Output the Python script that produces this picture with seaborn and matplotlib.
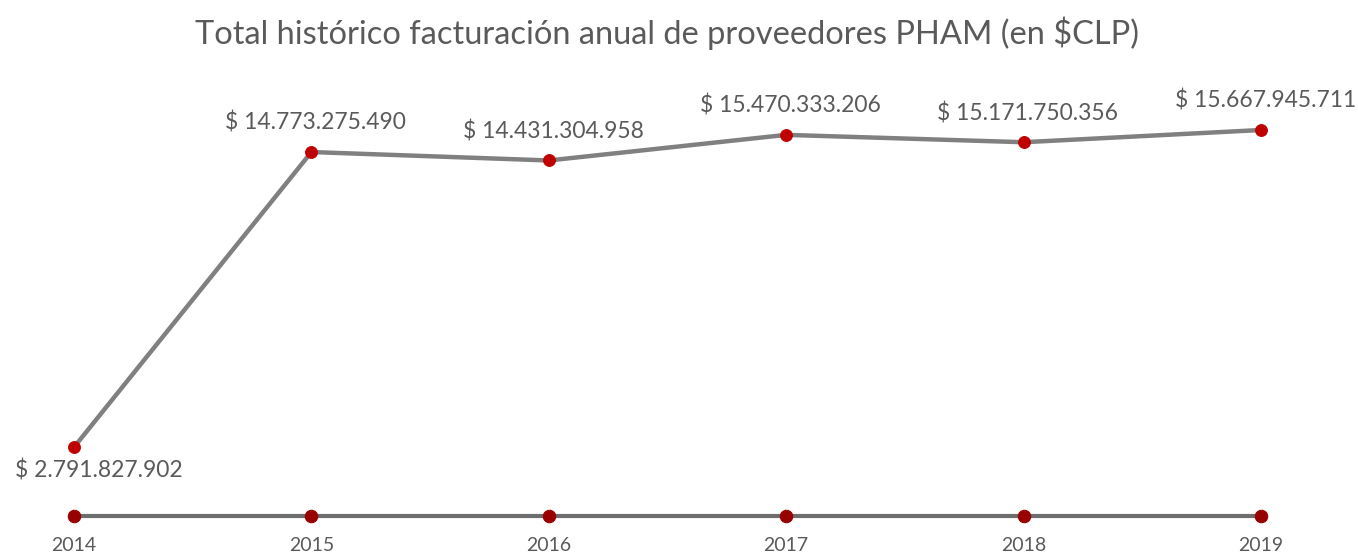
import matplotlib
matplotlib.use("Agg")
import matplotlib.pyplot as plt
import seaborn as sns
import pandas as pd

years = ["2014", "2015", "2016", "2017", "2018", "2019"]
totals = [2791827902, 14773275490, 14431304958, 15470333206, 15171750356, 15667945711]
baseline = [0, 0, 0, 0, 0, 0]
labels = ["$ 2.791.827.902", "$ 14.773.275.490", "$ 14.431.304.958",
          "$ 15.470.333.206", "$ 15.171.750.356", "$ 15.667.945.711"]
title = "Total histórico facturación anual de proveedores PHAM (en $CLP)"

sns.set_theme(style="white")
plt.rcParams['font.family'] = ['Lato', 'DejaVu Sans']

df = pd.DataFrame({"x": range(len(years)), "total": totals, "base": baseline})

fig = plt.figure(figsize=(13.58, 5.58), dpi=100)
ax = fig.add_axes([74/1358, 42/558, 1187/1358, 386/558])

sns.lineplot(data=df, x="x", y="base", ax=ax, color="#6e6e6e", linewidth=3,
             marker="o", markersize=9, markerfacecolor="#990000", markeredgecolor="#990000",
             clip_on=False, zorder=3)
sns.lineplot(data=df, x="x", y="total", ax=ax, color="#808080", linewidth=3.2,
             marker="o", markersize=8.5, markerfacecolor="#C00000", markeredgecolor="#C00000",
             clip_on=False, zorder=4)

ax.set_xlim(0, len(years) - 1)
ax.set_ylim(0, max(totals))
for i, (v, lab) in enumerate(zip(totals, labels)):
    if i == 0:
        ax.annotate(lab, (i, v), xytext=(18, -17), textcoords="offset points",
                    ha="center", va="center", fontsize=16.5, color="#5a5a5a")
    else:
        ax.annotate(lab, (i, v), xytext=(3, 21), textcoords="offset points",
                    ha="center", va="center", fontsize=16.5, color="#5a5a5a")

ax.set_xticks(range(len(years)))
ax.set_xticklabels(years, fontsize=14, color="#5a5a5a")
ax.tick_params(axis="x", length=0, pad=15)
ax.set_yticks([])
ax.set_xlabel("")
ax.set_ylabel("")
for s in ax.spines.values():
    s.set_visible(False)
ax.patch.set_alpha(0)

fig.text(0.491, 1 - 33/558, title, ha="center", va="center", fontsize=23.5,
         color="#5a5a5a")

fig.savefig("out.png", dpi=100)
